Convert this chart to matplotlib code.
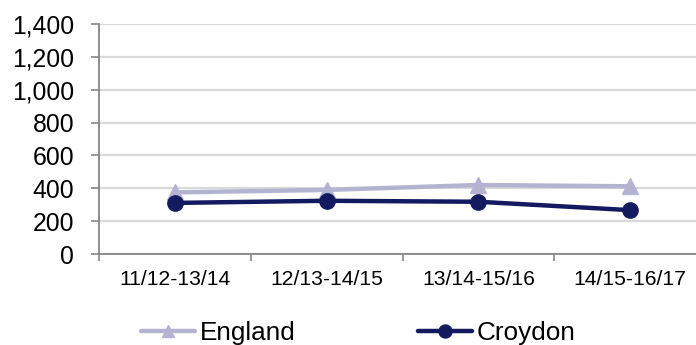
import matplotlib
matplotlib.use("Agg")
import matplotlib.pyplot as plt
from matplotlib.ticker import FuncFormatter, FixedLocator

plt.rcParams['font.family'] = ['Liberation Sans', 'DejaVu Sans']

periods = ["11/12-13/14", "12/13-14/15", "13/14-15/16", "14/15-16/17"]
england = [375, 390, 420, 412]
croydon = [311, 324, 318, 267]

fig = plt.figure(figsize=(6.96, 3.45), dpi=100)
ax = fig.add_axes([99 / 696, 1 - 254 / 345, 607 / 696, 230 / 345])

x = list(range(len(periods)))
ax.plot(x, england, color="#B4B4D2", lw=3.2, marker="^", markersize=11,
        label="England", zorder=3, solid_capstyle="round")
ax.plot(x, croydon, color="#141A5F", lw=3.2, marker="o", markersize=11,
        label="Croydon", zorder=4, solid_capstyle="round")

ax.set_ylim(0, 1400)
ax.set_xlim(-0.5, len(periods) - 0.5)
ax.set_yticks(range(0, 1401, 200))
ax.yaxis.set_major_formatter(FuncFormatter(lambda v, p: f"{int(v):,}"))
ax.grid(axis="y", color="#D9D9D9", lw=1.6, zorder=0)
ax.set_axisbelow(True)

# category boundaries carry the tick marks, centres carry the labels
ax.xaxis.set_major_locator(FixedLocator([i - 0.5 for i in range(len(periods) + 1)]))
ax.xaxis.set_major_formatter(FuncFormatter(lambda v, p: ""))
ax.xaxis.set_minor_locator(FixedLocator(x))
ax.set_xticklabels(periods, minor=True)
ax.tick_params(axis="x", which="major", length=5, width=1.2, color="#868686")
ax.tick_params(axis="x", which="minor", length=0, pad=11.5, labelsize=15.2)
ax.tick_params(axis="y", length=6, width=1.2, color="#868686", pad=12, labelsize=17.8)

for s in ("top", "right"):
    ax.spines[s].set_visible(False)
for s in ("left", "bottom"):
    ax.spines[s].set_color("#868686")
    ax.spines[s].set_linewidth(1.3)

fig.legend(loc="center", bbox_to_anchor=(0.515, 1 - 333 / 345), ncol=2,
           frameon=False, fontsize=18.8, handlelength=2.05, handletextpad=0.2,
           columnspacing=4.7, markerscale=0.85)

fig.savefig("out.png", dpi=100)
